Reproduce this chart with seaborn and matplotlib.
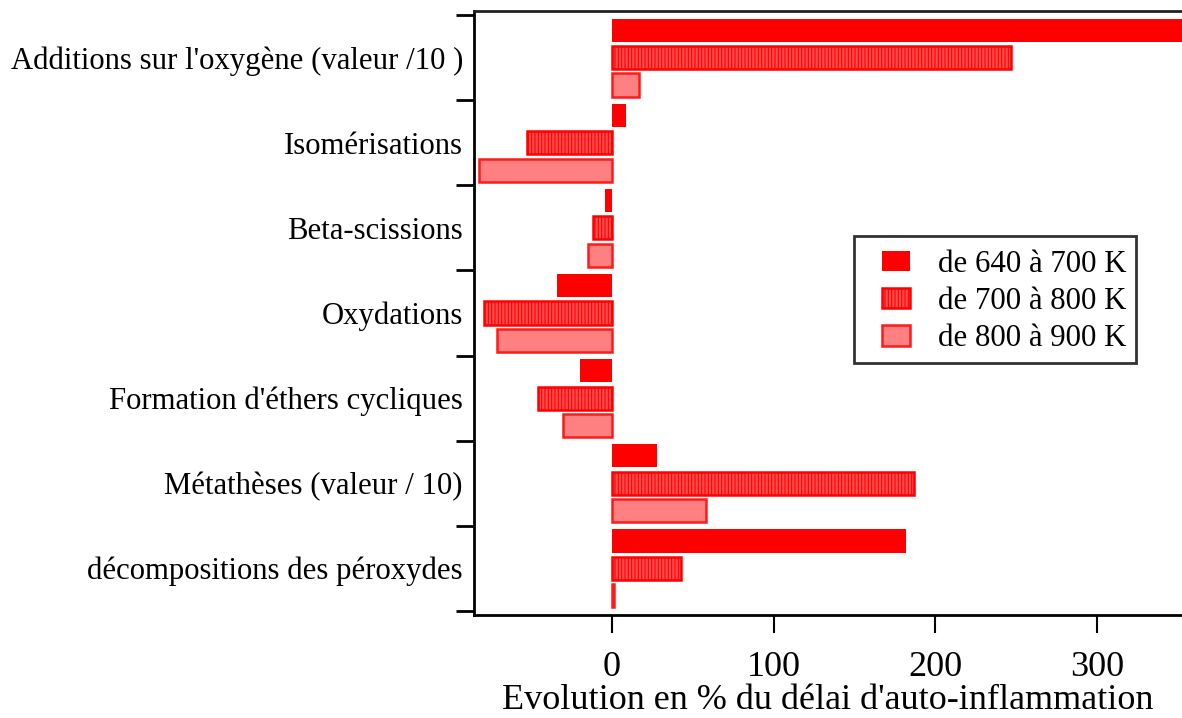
import numpy as np
import pandas as pd
import matplotlib
matplotlib.use("Agg")
import matplotlib.pyplot as plt
from matplotlib.patches import Rectangle
from matplotlib.legend_handler import HandlerPatch
import seaborn as sns

categories = ["Additions sur l'oxygène (valeur /10 )", "Isomérisations", "Beta-scissions",
              "Oxydations", "Formation d'éthers cycliques", "Métathèses (valeur / 10)",
              "décompositions des péroxydes"]
series = ["de 640 à 700 K", "de 700 à 800 K", "de 800 à 900 K"]
v_640_700 = [380, 9, -4, -34, -20, 28, 182]
v_700_800 = [247, -52.5, -12, -79, -46, 187, 43]
v_800_900 = [17, -82, -14.5, -71, -30, 58, 1.5]
x_ticks = [0, 100, 200, 300]

rows = []
for s, vals in zip(series, [v_640_700, v_700_800, v_800_900]):
    for c, v in zip(categories, vals):
        rows.append({"category": c, "series": s, "value": v})
df = pd.DataFrame(rows)

sns.set_theme(style="white")
plt.rcParams['font.family'] = ['Liberation Serif', 'DejaVu Serif']
plt.rcParams['hatch.linewidth'] = 0.8
for k in ["text.color", "axes.labelcolor", "xtick.color", "ytick.color", "axes.edgecolor"]:
    plt.rcParams[k] = "black"

fig = plt.figure(figsize=(11.82, 7.18), dpi=100)
ax = fig.add_axes([474/1182, 1-615/718, 1-474/1182, (615-11)/718])

sns.barplot(data=df, x="value", y="category", hue="series", orient="h",
            order=categories, hue_order=series, width=0.96, gap=0.15,
            palette=["#ff0000", "#ff4d4d", "#ff8080"], saturation=1,
            errorbar=None, ax=ax, legend=False)

styles = [dict(edgecolor="#ff0000", linewidth=0, hatch=None),
          dict(edgecolor="#ff0000", linewidth=1.8, hatch="|||||"),
          dict(edgecolor="#ff1a1a", linewidth=1.8, hatch=None)]
for cont, st in zip(ax.containers, styles):
    for p in cont.patches:
        p.set_edgecolor(st["edgecolor"])
        p.set_linewidth(st["linewidth"])
        if st["hatch"]:
            p.set_hatch(st["hatch"])

ax.set_xlim(-85.3, 352.5)
ax.set_ylim(6.55, -0.55)
ax.set_xticks(x_ticks)
ax.set_xticklabels([str(t) for t in x_ticks], fontsize=26)
ax.set_xlabel("Evolution en % du délai d'auto-inflammation", fontsize=26, labelpad=0)
ax.set_ylabel("")

ax.set_yticks(range(len(categories)))
ax.set_yticklabels(categories, fontsize=22.15)
ax.set_yticks(np.arange(-0.5, len(categories), 1.0), minor=True)
ax.tick_params(axis="y", which="major", direction="in", length=3, width=1.5, pad=8)
ax.tick_params(axis="y", which="minor", direction="out", length=13, width=2, left=True)
ax.tick_params(axis="x", which="major", direction="out", length=13, width=1.5, pad=13, bottom=True)

for side in ["left", "bottom", "top"]:
    ax.spines[side].set_visible(True)
    ax.spines[side].set_color("black")
    ax.spines[side].set_linewidth(2)
ax.spines["top"].set_color("#222222")
ax.spines["right"].set_visible(False)


def right_rect(legend, orig_handle, xdescent, ydescent, width, height, fontsize):
    w, h = 20.0, 14.5
    return Rectangle((-xdescent + width - w, -ydescent + (height - h) / 2), w, h)


handles = [cont.patches[0] for cont in ax.containers]
leg = ax.legend(handles, series, loc="upper left", bbox_to_anchor=(0.537, 0.6275),
                fontsize=22.2, frameon=True, fancybox=False, edgecolor="black",
                handlelength=1.48, handleheight=1.16, handletextpad=0.91,
                borderpad=0.32, labelspacing=0.14, borderaxespad=0,
                handler_map={Rectangle: HandlerPatch(patch_func=right_rect)})
leg.get_frame().set_linewidth(2)

fig.savefig("out.png", dpi=100)
